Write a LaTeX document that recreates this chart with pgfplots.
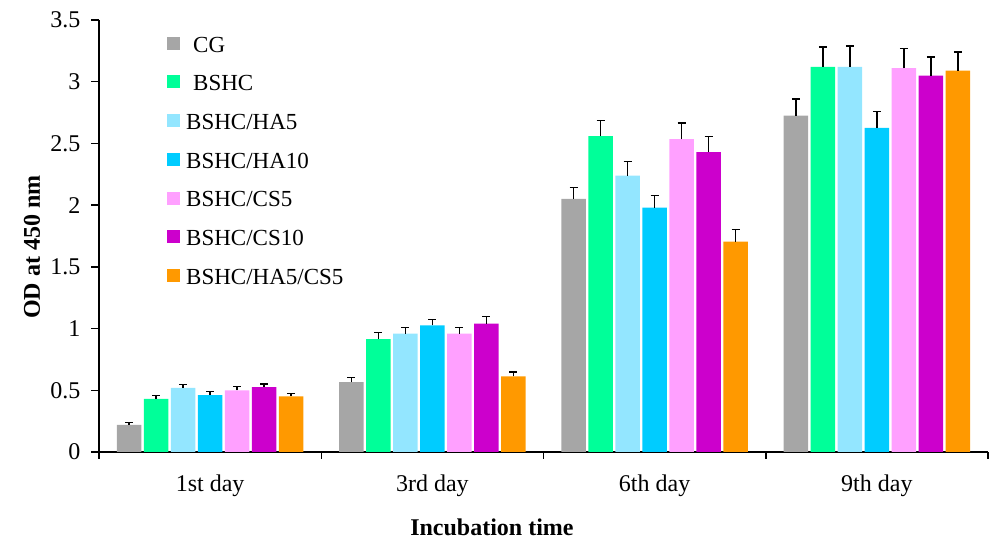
\documentclass[border=0pt]{standalone}
\usepackage{pgfplots}
\pgfplotsset{compat=1.18}
\usepackage{fontspec}
\setmainfont{Liberation Serif}
\definecolor{cCG}{HTML}{A6A6A6}
\definecolor{cBSHC}{HTML}{00FF99}
\definecolor{cHAfive}{HTML}{93E6FF}
\definecolor{cHAten}{HTML}{00CCFF}
\definecolor{cCSfive}{HTML}{FFA0FF}
\definecolor{cCSten}{HTML}{CC00CC}
\definecolor{cMix}{HTML}{FF9900}
\newcommand{\tfont}{\fontsize{24bp}{28bp}\selectfont}
\newcommand{\gfont}{\fontsize{23bp}{27bp}\selectfont}
\newcommand{\lfont}{\fontsize{24bp}{28bp}\selectfont\bfseries}
\begin{document}
\begin{tikzpicture}[x=1bp,y=1bp]
\path[use as bounding box] (0,0) rectangle (992,540);
\begin{axis}[
  at={(99bp,88bp)}, anchor=south west,
  width=889bp, height=432bp, scale only axis,
  xmin=-0.5, xmax=3.5, ymin=0, ymax=3.5,
  ybar, bar width=0.11,
  axis lines*=left,
  axis line style={line width=1.8bp, black},
  clip=false,
  ytick={0,0.5,1,1.5,2,2.5,3,3.5},
  xtick={0,1,2,3},
  xticklabels={1st day,3rd day,6th day,9th day},
  minor xtick={-0.5,0.5,1.5,2.5,3.5},
  major x tick style={draw=none},
  tick align=outside,
  major tick length=8bp, minor tick length=7bp,
  tick style={line width=1.5bp, black},
  /pgf/number format/assume math mode=true,
  tick label style={font=\tfont},
  xticklabel style={yshift=-11bp},
  yticklabel style={xshift=-7bp},
  xlabel={Incubation time},
  ylabel={OD at 450 nm},
  xlabel style={at={(axis description cs:0.442,-0.174)}, anchor=center, font=\lfont},
  ylabel style={at={(axis description cs:-0.0754,0.4745)}, anchor=center, font=\lfont},
  legend style={at={(axis description cs:0.0765,0.966)}, anchor=north west,
    draw=none, fill=none, font=\gfont, row sep=18bp, inner sep=0pt},
  legend cell align=left,
  legend image code/.code={\fill[#1] (0bp,-4.5bp) rectangle (13bp,8.5bp);},
  error bars/y dir=plus, error bars/y explicit,
  error bars/error bar style={line width=1.3bp, black, solid},
  error bars/error mark options={rotate=90, line width=1.3bp, mark size=4bp, black, solid},
]
\addplot[fill=cCG, draw=none, bar shift=-0.3645]
  coordinates {(0,0.22) +- (0,0.02) (1,0.567) +- (0,0.035) (2,2.05) +- (0,0.095) (3,2.725) +- (0,0.135)};
\addlegendentry{\hspace{11bp}CG}
\addplot[fill=cBSHC, draw=none, bar shift=-0.243]
  coordinates {(0,0.43) +- (0,0.025) (1,0.915) +- (0,0.055) (2,2.56) +- (0,0.125) (3,3.12) +- (0,0.16)};
\addlegendentry{\hspace{11bp}BSHC}
\addplot[fill=cHAfive, draw=none, bar shift=-0.1215]
  coordinates {(0,0.52) +- (0,0.025) (1,0.96) +- (0,0.05) (2,2.24) +- (0,0.115) (3,3.12) +- (0,0.17)};
\addlegendentry{\hspace{4bp}BSHC/HA5}
\addplot[fill=cHAten, draw=none, bar shift=0]
  coordinates {(0,0.46) +- (0,0.03) (1,1.025) +- (0,0.05) (2,1.98) +- (0,0.10) (3,2.625) +- (0,0.135)};
\addlegendentry{\hspace{4bp}BSHC/HA10}
\addplot[fill=cCSfive, draw=none, bar shift=0.1215]
  coordinates {(0,0.50) +- (0,0.03) (1,0.96) +- (0,0.05) (2,2.535) +- (0,0.13) (3,3.11) +- (0,0.16)};
\addlegendentry{\hspace{4bp}BSHC/CS5}
\addplot[fill=cCSten, draw=none, bar shift=0.243]
  coordinates {(0,0.525) +- (0,0.025) (1,1.04) +- (0,0.055) (2,2.43) +- (0,0.125) (3,3.05) +- (0,0.15)};
\addlegendentry{\hspace{4bp}BSHC/CS10}
\addplot[fill=cMix, draw=none, bar shift=0.3645]
  coordinates {(0,0.45) +- (0,0.025) (1,0.613) +- (0,0.035) (2,1.705) +- (0,0.095) (3,3.09) +- (0,0.15)};
\addlegendentry{\hspace{4bp}BSHC/HA5/CS5}
\end{axis}
\end{tikzpicture}
\end{document}
